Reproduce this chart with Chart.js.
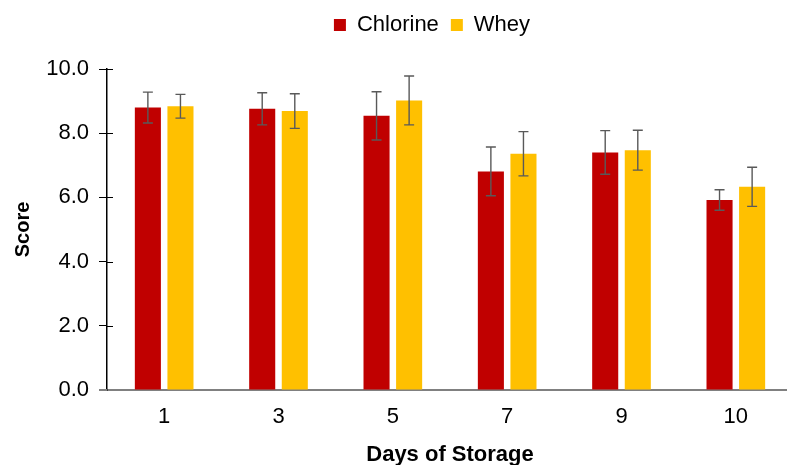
<!DOCTYPE html>
<html>
<head>
<meta charset="utf-8">
<script src="https://cdn.jsdelivr.net/npm/chart.js@4.4.1/dist/chart.umd.min.js"></script>
<style>
  html, body { margin: 0; padding: 0; background: #fff; overflow: hidden; }
</style>
</head>
<body>
<canvas id="chart-score" width="795" height="468"></canvas>
<script>
// data
var days = ["1", "3", "5", "7", "9", "10"];
var chlorine = [8.80, 8.76, 8.54, 6.81, 7.40, 5.92];
var chlorineErr = [0.48, 0.50, 0.75, 0.76, 0.68, 0.32];
var whey = [8.84, 8.69, 9.02, 7.36, 7.47, 6.33];
var wheyErr = [0.37, 0.54, 0.76, 0.69, 0.62, 0.61];
var yTicks = [0, 2, 4, 6, 8, 10];

var FONT = "'Liberation Sans', Arial, sans-serif";

// error bars + inner tick marks on the y axis
var errorBars = {
  id: "errorBars",
  afterDatasetsDraw: function(chart) {
    var ctx = chart.ctx;
    var yScale = chart.scales.y;
    ctx.save();
    ctx.strokeStyle = "#595959";
    ctx.lineWidth = 1.4;
    chart.data.datasets.forEach(function(ds, i) {
      var meta = chart.getDatasetMeta(i);
      meta.data.forEach(function(bar, j) {
        var v = ds.data[j];
        var e = ds.errors[j];
        var top = yScale.getPixelForValue(v + e);
        var bot = yScale.getPixelForValue(v - e);
        ctx.beginPath();
        ctx.moveTo(bar.x, top);
        ctx.lineTo(bar.x, bot);
        ctx.moveTo(bar.x - 5, top);
        ctx.lineTo(bar.x + 5, top);
        ctx.moveTo(bar.x - 5, bot);
        ctx.lineTo(bar.x + 5, bot);
        ctx.stroke();
      });
    });
    ctx.restore();
  },
  afterDraw: function(chart) {
    var ctx = chart.ctx;
    var yScale = chart.scales.y;
    var xScale = chart.scales.x;
    ctx.save();
    ctx.strokeStyle = "#000";
    ctx.lineWidth = 1;
    yTicks.forEach(function(t) {
      if (t === 0) return;
      var y = Math.round(yScale.getPixelForValue(t)) + 0.5;
      ctx.beginPath();
      ctx.moveTo(yScale.right, y);
      ctx.lineTo(yScale.right + 6, y);
      ctx.stroke();
    });
    // base line runs out to the left like the tick marks
    ctx.strokeStyle = "#808080";
    ctx.lineWidth = 2;
    var y0 = yScale.getPixelForValue(0);
    ctx.beginPath();
    ctx.moveTo(yScale.right - 8, y0);
    ctx.lineTo(xScale.left, y0);
    ctx.stroke();
    ctx.restore();
  }
};

// push the plot down below the legend and shift the legend right a bit
var legendGap = {
  id: "legendGap",
  beforeInit: function(chart) {
    var fit = chart.legend.fit;
    chart.legend.fit = function() {
      fit.bind(chart.legend)();
      this.height += 23;
    };
  },
  afterLayout: function(chart) {
    chart.legend.left += 30;
    chart.legend.right += 30;
  }
};

var ctx = document.getElementById("chart-score").getContext("2d");

var chart = new Chart(ctx, {
  type: "bar",
  data: {
    labels: days,
    datasets: [
      {
        label: "Chlorine",
        backgroundColor: "#C00000",
        data: chlorine,
        errors: chlorineErr,
        categoryPercentage: 0.57,
        barPercentage: 0.8
      },
      {
        label: "Whey",
        backgroundColor: "#FFC000",
        data: whey,
        errors: wheyErr,
        categoryPercentage: 0.57,
        barPercentage: 0.8
      }
    ]
  },
  options: {
    responsive: false,
    animation: false,
    layout: { padding: { top: 2, left: 11, right: 2, bottom: 0 } },
    plugins: {
      legend: {
        position: "top",
        labels: {
          font: { family: FONT, size: 22 },
          color: "#000",
          boxWidth: 12,
          boxHeight: 12,
          padding: 12
        }
      },
      tooltip: { enabled: false }
    },
    scales: {
      x: {
        grid: { display: false, drawTicks: false },
        border: { color: "#808080", width: 2 },
        ticks: {
          font: { family: FONT, size: 22 },
          color: "#000",
          padding: 14
        },
        title: {
          display: true,
          text: "Days of Storage",
          font: { family: FONT, size: 22, weight: "bold" },
          color: "#000",
          padding: { top: 0, bottom: 0 }
        },
        afterFit: function(scale) { scale.height = 78; }
      },
      y: {
        min: 0,
        max: 10,
        afterBuildTicks: function(scale) {
          scale.ticks = yTicks.map(function(v) { return { value: v }; });
        },
        grid: {
          drawOnChartArea: false,
          drawTicks: true,
          tickLength: 8,
          color: "#000"
        },
        border: { color: "#000", width: 1.5 },
        ticks: {
          font: { family: FONT, size: 22 },
          color: "#000",
          padding: 10,
          callback: function(v) { return Number(v).toFixed(1); }
        },
        title: {
          display: true,
          text: "Score",
          font: { family: FONT, size: 20, weight: "bold" },
          color: "#000",
          padding: { top: 0, bottom: 0 }
        },
        afterFit: function(scale) { scale.width = 96; }
      }
    }
  },
  plugins: [errorBars, legendGap]
});
</script>
</body>
</html>
